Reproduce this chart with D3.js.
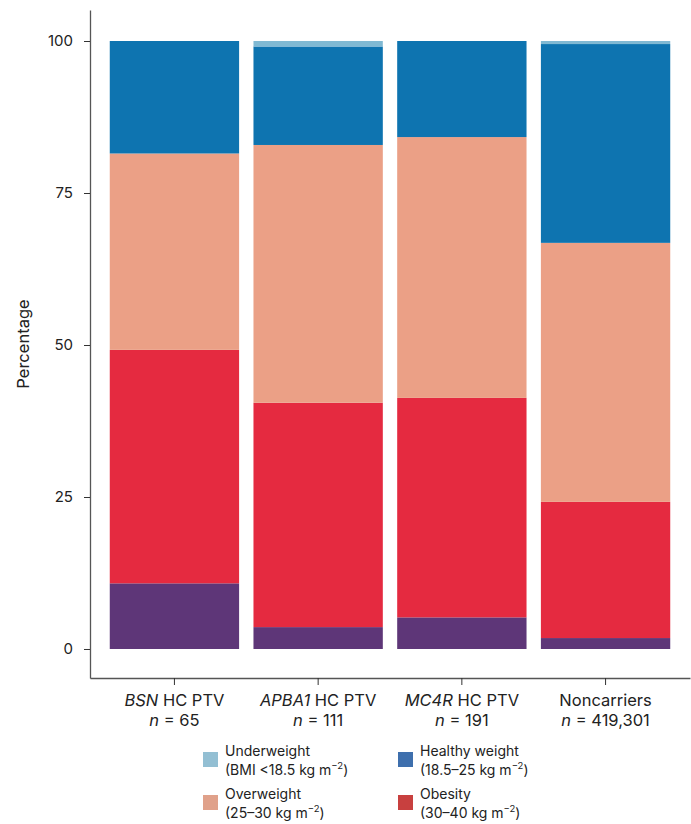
<!DOCTYPE html>
<html>
<head>
<meta charset="utf-8">
<script src="https://cdn.jsdelivr.net/npm/d3@7"></script>
<style>
  html, body { margin: 0; padding: 0; background: #fff; }
  svg { display: block; font-family: Inter, Roboto, sans-serif; }
</style>
</head>
<body>
<svg id="chart" width="691" height="824"></svg>
<script>
// ---- data ----
const groups = ["BSN", "APBA1", "MC4R", "Noncarriers"];
const groupItalic = ["BSN", "APBA1", "MC4R", ""];
const groupSuffix = [" HC PTV", " HC PTV", " HC PTV", "Noncarriers"];
const groupN = ["65", "111", "191", "419,301"];
const categories = ["Severe obesity", "Obesity", "Overweight", "Healthy weight", "Underweight"];
const severeObesity = [10.8, 3.6, 5.2, 1.8];
const obesity       = [38.4, 36.9, 36.1, 22.4];
const overweight    = [32.3, 42.4, 42.9, 42.6];
const healthy       = [18.5, 16.2, 15.8, 32.7];
const underweight   = [0.0, 0.9, 0.0, 0.5];
const yTicks = [0, 25, 50, 75, 100];
const barColors = ["#5e3678", "#e52a40", "#eba086", "#0e74b0", "#80b9d3"];
const legendItems = [
  { name: "Underweight", sub: "(BMI <18.5 kg m", color: "#93bfd3" },
  { name: "Healthy weight", sub: "(18.5–25 kg m", color: "#3e6fad" },
  { name: "Overweight", sub: "(25–30 kg m", color: "#e0a18a" },
  { name: "Obesity", sub: "(30–40 kg m", color: "#c8403f" }
];

// ---- build table ----
const series = [severeObesity, obesity, overweight, healthy, underweight];
const table = groups.map((g, i) => {
  const row = { group: g };
  categories.forEach((c, k) => row[c] = series[k][i]);
  return row;
});
const stacked = d3.stack().keys(categories)(table);

const svg = d3.select("#chart");
const x = d3.scaleBand().domain(groups).range([90, 690]).paddingInner(0.1).paddingOuter(0.1375);
const y = d3.scaleLinear().domain([-4.77, 105.1]).range([678, 10]);

// bars
svg.append("g").selectAll("g").data(stacked).join("g")
  .attr("fill", (d, i) => barColors[i])
  .selectAll("rect").data(d => d).join("rect")
  .attr("x", d => x(d.data.group))
  .attr("width", x.bandwidth())
  .attr("y", d => y(d[1]))
  .attr("height", d => Math.max(0, y(d[0]) - y(d[1])));

// y axis
const yAxis = svg.append("g").attr("transform", "translate(90,0)")
  .call(d3.axisLeft(y).tickValues(yTicks).tickSize(6).tickSizeOuter(0).tickPadding(11));
yAxis.select(".domain").attr("stroke", "#555").attr("stroke-width", 1.3);
yAxis.selectAll(".tick line").attr("stroke", "#333");
yAxis.selectAll(".tick text").attr("font-size", 15).attr("fill", "#222")
  .attr("font-family", "Inter, Roboto, sans-serif");

// x axis
const xAxis = svg.append("g").attr("transform", "translate(0,678)")
  .call(d3.axisBottom(x).tickSize(7).tickSizeOuter(0).tickFormat(""));
xAxis.select(".domain").attr("stroke", "#555").attr("stroke-width", 1.3);
xAxis.selectAll(".tick line").attr("stroke", "#333");

// x labels
groups.forEach((g, i) => {
  const cx = x(g) + x.bandwidth() / 2;
  const t = svg.append("text").attr("x", cx).attr("y", 706)
    .attr("text-anchor", "middle").attr("font-size", 16.5).attr("fill", "#222");
  if (groupItalic[i]) {
    t.append("tspan").attr("font-style", "italic").text(groupItalic[i]);
    t.append("tspan").text(groupSuffix[i]);
  } else {
    t.append("tspan").text(groupSuffix[i]);
  }
  const t2 = svg.append("text").attr("x", cx).attr("y", 726)
    .attr("text-anchor", "middle").attr("font-size", 16.5).attr("fill", "#222");
  t2.append("tspan").attr("font-style", "italic").text("n");
  t2.append("tspan").text(" = " + groupN[i]);
});

// y title
svg.append("text").attr("transform", "translate(29,344) rotate(-90)")
  .attr("text-anchor", "middle").attr("font-size", 16.5).attr("fill", "#222")
  .text("Percentage");

// legend
const legX = [203, 398];
const legY = [752, 795];
legendItems.forEach((it, i) => {
  const lx = legX[i % 2], ly = legY[Math.floor(i / 2)];
  svg.append("rect").attr("x", lx).attr("y", ly).attr("width", 15).attr("height", 15)
    .attr("fill", it.color);
  svg.append("text").attr("x", lx + 22).attr("y", ly + 4).attr("font-size", 14)
    .attr("fill", "#222").text(it.name);
  const s = svg.append("text").attr("x", lx + 22).attr("y", ly + 23).attr("font-size", 14)
    .attr("fill", "#222");
  s.append("tspan").text(it.sub);
  s.append("tspan").attr("font-size", 9.5).attr("dy", -6).text("−2");
  s.append("tspan").attr("dy", 6).text(")");
});
</script>
</body>
</html>
